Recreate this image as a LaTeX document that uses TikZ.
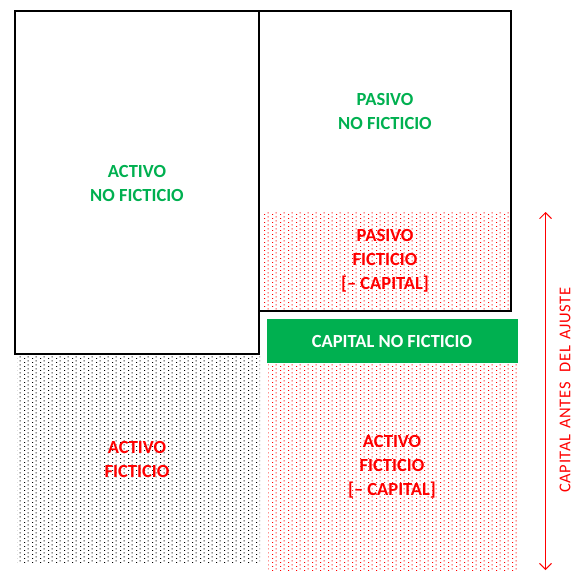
\documentclass[tikz,border=0pt]{standalone}
\usepackage{fontspec}
\setmainfont{Carlito}
\newfontfamily\spacedfont[LetterSpace=4]{Carlito}
\usetikzlibrary{arrows.meta,patterns}
\definecolor{xlgreen}{HTML}{00B050}
\pgfdeclarepatternformonly{stagdots}{\pgfqpoint{0pt}{0pt}}{\pgfqpoint{8pt}{4pt}}{\pgfqpoint{8pt}{4pt}}{%
  \pgfpathrectangle{\pgfqpoint{0pt}{0pt}}{\pgfqpoint{1.2pt}{1.2pt}}%
  \pgfpathrectangle{\pgfqpoint{4pt}{2pt}}{\pgfqpoint{1.2pt}{1.2pt}}%
  \pgfusepath{fill}}
\tikzset{
  outline/.style={draw=black,line width=1.3pt},
  blackdots/.style={pattern=stagdots,pattern color=black},
  reddots/.style={pattern=stagdots,pattern color=red},
  lbl/.style={font=\bfseries\fontsize{18.5}{24}\selectfont,align=center,inner sep=0pt},
  greenlbl/.style={lbl,text=xlgreen},
  redlbl/.style={lbl,text=red},
}
\begin{document}
\begin{tikzpicture}[x=1pt,y=-1pt]
\useasboundingbox (0,0) rectangle (586,582);
% dotted areas
\fill[reddots] (261,212) rectangle (510,310);
\fill[blackdots] (17,356) rectangle (260,563);
\fill[reddots] (268,364) rectangle (517,571);
% outlined boxes
\draw[outline] (15,11) rectangle (259,354);
\draw[outline] (259,11) -- (511,11) -- (511,311) -- (259,311);
% green capital box
\fill[xlgreen] (267,319) rectangle (518,363);
% labels
\node[greenlbl] (anf) at (137,183) {ACTIVO\\NO FICTICIO};
\node[greenlbl] (pnf) at (385,111) {PASIVO\\NO FICTICIO};
\node[redlbl] (pf) at (385,261) {PASIVO\\FICTICIO\\{[}– CAPITAL{]}};
\node[lbl,text=white] (cnf) at (392,341) {CAPITAL NO FICTICIO};
\node[redlbl] (af) at (137,459) {ACTIVO\\FICTICIO};
\node[redlbl] (afc) at (392,467) {ACTIVO\\FICTICIO\\{[}– CAPITAL{]}};
% arrow
\coordinate (atop) at (545.5,212);
\coordinate (abot) at (545.5,570);
\draw[red,line width=0.9pt,{Straight Barb[length=6pt,width=12pt]}-{Straight Barb[length=6pt,width=12pt]}] (atop) -- (abot);
\node[red,rotate=90,font=\spacedfont\fontsize{16.5}{20}\selectfont,inner sep=0pt] (cad) at (565,390) {CAPITAL\hspace{6pt}ANTES\hspace{10pt}DEL\hspace{6pt}AJUSTE};
\end{tikzpicture}
\end{document}
